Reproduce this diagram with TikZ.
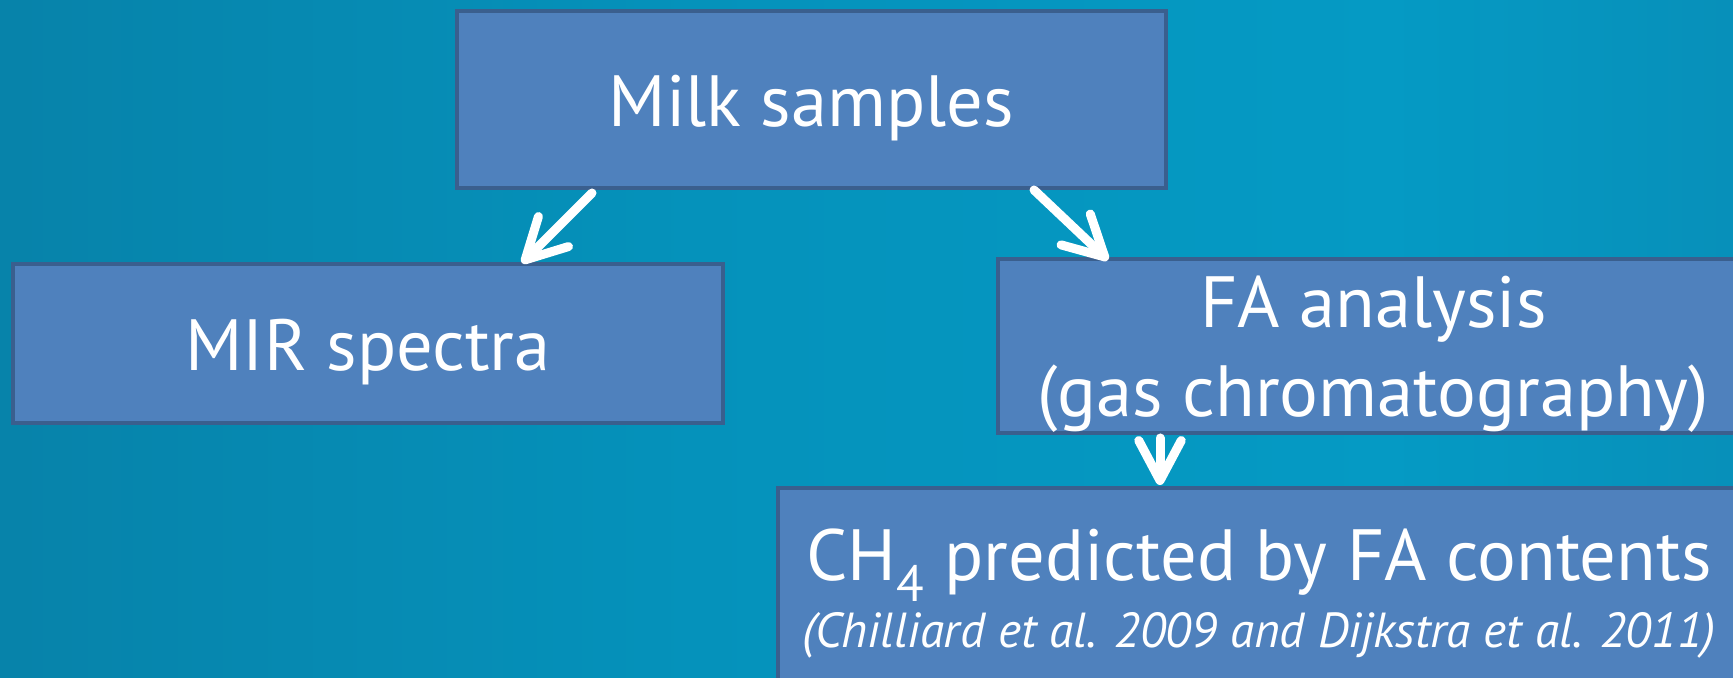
\documentclass[tikz,border=0pt]{standalone}
\usepackage{fontspec}
\setmainfont{PT Sans}
\usepackage{tikz}
\usetikzlibrary{arrows.meta, positioning, calc}
\definecolor{BoxFill}{HTML}{4F81BD}
\definecolor{BoxLine}{HTML}{3A5F8E}
\definecolor{BgEdgeL}{HTML}{0A6890}
\definecolor{BgMidL}{HTML}{0781A8}
\definecolor{BgMid}{HTML}{0592BB}
\definecolor{BgLight}{HTML}{059AC4}
\definecolor{BgMidR}{HTML}{0A7FA8}
\definecolor{BgEdgeR}{HTML}{096C94}
\pgfdeclarehorizontalshading{slidebg}{100bp}{color(0bp)=(BgEdgeL); color(23bp)=(BgMidL); color(45bp)=(BgMid); color(65bp)=(BgLight); color(92bp)=(BgMidR); color(100bp)=(BgEdgeR)}
\newcommand{\bigtext}{\fontsize{41.3}{50.7}\selectfont}
\newcommand{\citetext}{\fontsize{28}{32}\selectfont\itshape}

\begin{document}
\begin{tikzpicture}[x=0.02cm, y=-0.02cm, >=Stealth]
  \tikzset{
    flowbox/.style={draw=BoxLine, fill=BoxFill, line width=0.08cm, text=white,
      font=\bigtext, align=center, inner sep=0pt},
    flowarrow/.style={white, line width=0.18cm, line cap=round,
      -{Straight Barb[length=0.8cm, width=0.85cm, round]}},
  }
  % Background (slide, 1733 x 677 px)
  \clip[use as bounding box] (0,0) rectangle (1733,677);
  \shade[shading=slidebg] (0,0) rectangle (1733,677);
  % Boxes
  \node[flowbox, minimum width=14.18cm, minimum height=3.54cm,
    text height=1.5cm, text depth=0.44cm] (milk) at (811.5,99.5) {Milk samples};
  \node[flowbox, minimum width=14.2cm, minimum height=3.18cm,
    text height=1.5cm, text depth=0.42cm] (mir) at (368,343.5) {MIR spectra};
  \node[flowbox, minimum width=15.02cm, minimum height=3.48cm,
    text height=3.1cm, text depth=0.26cm] (fa) at (1373.5,346)
    {FA analysis\\(gas chromatography)};
  \node[flowbox, minimum width=19.24cm, minimum height=4.64cm,
    text height=2.6cm, text depth=0.88cm] (ch4) at (1259,604)
    {CH\textsubscript{4} predicted by FA contents\\[-12.6pt]
     {\citetext (Chilliard et al. 2009 and Dijkstra et al. 2011)}};
  % Arrows
  \draw[flowarrow] ($(milk.south)+(-219.5,3)$) -- ($(mir.north)+(154,1)$);
  \draw[flowarrow] ($(milk.south)+(222.5,0)$) -- ($(fa.north)+(-265.5,3)$);
  \draw[flowarrow] ($(fa.south)+(-213.5,3)$) -- ($(ch4.north)+(-99,-1)$);
\end{tikzpicture}
\end{document}
